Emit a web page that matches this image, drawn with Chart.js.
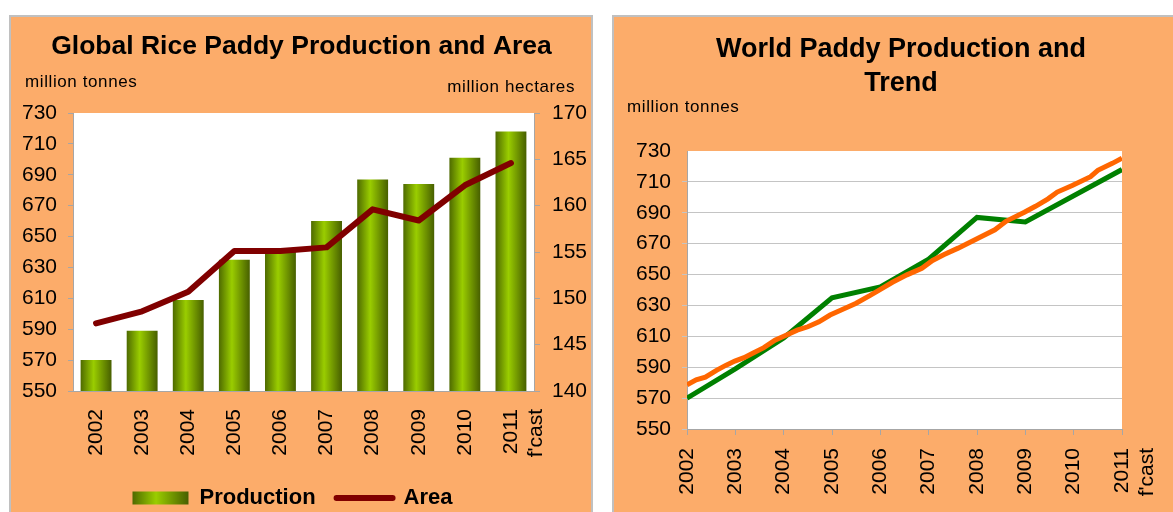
<!DOCTYPE html>
<html>
<head>
<meta charset="utf-8">
<script src="https://cdn.jsdelivr.net/npm/chart.js@4.4.1/dist/chart.umd.min.js"></script>
<style>
  body { margin:0; width:1173px; height:512px; overflow:hidden; background:#fff;
         font-family:"Liberation Sans", Arial, sans-serif; position:relative; }
  .panel { position:absolute; top:15px; height:520px; box-sizing:border-box;
           border:2px solid #c0c0c0; background:#fcac6a; }
  #p1 { left:9px; width:584px; }
  #p2 { left:612px; width:600px; }
  .unit { position:absolute; font-size:17px; letter-spacing:0.6px; line-height:20px;
          color:#000; white-space:nowrap; }
  canvas { position:absolute; }
</style>
</head>
<body>
<div class="panel" id="p1"></div>
<div class="panel" id="p2"></div>
<canvas id="c1" width="581" height="502" style="left:11px;top:17px;width:581px;height:502px"></canvas>
<canvas id="c2" width="574" height="495" style="left:614px;top:17px;width:574px;height:495px"></canvas>
<div class="unit" style="left:25px;top:72px">million tonnes</div>
<div class="unit" style="right:598px;top:77px">million hectares</div>
<div class="unit" style="left:627px;top:97px">million tonnes</div>
<script>
// data
var years = ['2002', '2003', '2004', '2005', '2006', '2007', '2008', '2009', '2010', '2011'];
var yearNums = [2002, 2003, 2004, 2005, 2006, 2007, 2008, 2009, 2010, 2011];
var production = [570, 589, 609, 635, 642, 660, 687, 684, 701, 718];   // million tonnes
var area = [147.3, 148.6, 150.7, 155.1, 155.1, 155.5, 159.6, 158.4, 162.2, 164.6]; // million hectares

var trendYears = [2002.00, 2002.19, 2002.38, 2002.61, 2002.80, 2002.99, 2003.18, 2003.37, 2003.59,
  2003.82, 2004.05, 2004.28, 2004.50, 2004.73, 2004.96, 2005.19, 2005.49, 2005.79, 2006.02,
  2006.25, 2006.55, 2006.86, 2007.08, 2007.31, 2007.61, 2007.99, 2008.37, 2008.60, 2008.98,
  2009.21, 2009.47, 2009.66, 2009.97, 2010.35, 2010.50, 2010.80, 2011.00];
var trendValues = [578.6, 581.9, 583.6, 588.0, 591.2, 594.0, 596.2, 599.2, 602.7,
  607.5, 610.7, 614.0, 616.2, 619.4, 623.8, 627.0, 631.3, 636.5, 640.7,
  645.0, 649.8, 654.1, 659.1, 662.8, 667.1, 673.0, 679.0, 684.5, 690.3,
  694.2, 699.0, 703.4, 707.7, 713.4, 717.5, 722.0, 725.3];

var font = '"Liberation Sans", Arial, sans-serif';
var axisGray = '#a6a6a6';

function barStops(g) {
  g.addColorStop(0, '#4e6a00');
  g.addColorStop(0.42, '#9acd00');
  g.addColorStop(1, '#475f00');
  return g;
}

var whiteArea = {
  id: 'whiteArea',
  beforeDraw: function(chart) {
    var a = chart.chartArea, ctx = chart.ctx;
    ctx.save();
    ctx.fillStyle = '#fff';
    ctx.fillRect(a.left, a.top, a.right - a.left, a.bottom - a.top);
    ctx.restore();
  }
};

// nudge the legend a little to the left, and paint the bar swatch with the bar gradient
var legendTweak = {
  id: 'legendTweak',
  afterLayout: function(chart) {
    chart.legend.left -= 9;
    chart.legend.right -= 9;
  },
  beforeDraw: function(chart) {
    var lg = chart.legend;
    if (!lg || !lg.legendHitBoxes || !lg.legendHitBoxes.length) return;
    var hb = lg.legendHitBoxes[0];
    lg.legendItems[0].fillStyle = barStops(chart.ctx.createLinearGradient(hb.left, 0, hb.left + 56, 0));
  }
};

new Chart(document.getElementById('c1'), {
  type: 'bar',
  data: {
    labels: years.map(function(y) { return y === '2011' ? ['2011', "f'cast"] : y; }),
    datasets: [
      {
        type: 'line',
        label: 'Area',
        data: area,
        yAxisID: 'y1',
        borderColor: '#800000',
        borderWidth: 6,
        borderCapStyle: 'round',
        borderJoinStyle: 'round',
        pointRadius: 0,
        tension: 0,
        order: 0
      },
      {
        label: 'Production',
        data: production,
        yAxisID: 'y',
        order: 1,
        categoryPercentage: 1,
        barPercentage: 0.67,
        backgroundColor: function(c) {
          var chart = c.chart, a = chart.chartArea;
          if (!a || !chart.scales.x) return '#88b800';
          var x = chart.scales.x.getPixelForValue(c.dataIndex);
          var w = (a.right - a.left) / years.length * 0.67;
          return barStops(chart.ctx.createLinearGradient(x - w / 2, 0, x + w / 2, 0));
        }
      }
    ]
  },
  options: {
    responsive: false,
    animation: false,
    layout: { padding: 0 },
    plugins: {
      title: {
        display: true,
        text: 'Global Rice Paddy Production and Area',
        color: '#000',
        font: { family: font, size: 26.5, weight: 'bold', lineHeight: 1.2 },
        padding: { top: 13.4, bottom: 50.8 }
      },
      legend: {
        position: 'bottom',
        labels: {
          usePointStyle: true,
          pointStyleWidth: 56,
          boxHeight: 13,
          padding: 21,
          color: '#000',
          font: { family: font, size: 22, weight: 'bold' },
          generateLabels: function() {
            return [
              { text: 'Production', fillStyle: '#88b800', strokeStyle: 'rgba(0,0,0,0)', lineWidth: 0,
                pointStyle: 'rect', datasetIndex: 1, hidden: false, fontColor: '#000' },
              { text: 'Area', fillStyle: '#800000', strokeStyle: '#800000', lineWidth: 6, lineCap: 'round',
                pointStyle: 'line', datasetIndex: 0, hidden: false, fontColor: '#000' }
            ];
          }
        }
      },
      tooltip: { enabled: false }
    },
    scales: {
      x: {
        grid: { display: false },
        border: { color: axisGray },
        ticks: { color: '#000', font: { family: font, size: 21 }, minRotation: 90, maxRotation: 90,
                 autoSkip: false, padding: 10 },
        afterFit: function(s) { s.height = 75; }
      },
      y: {
        position: 'left',
        min: 550, max: 730,
        grid: { drawOnChartArea: false, tickLength: 5, color: axisGray },
        border: { color: axisGray },
        ticks: { stepSize: 20, color: '#000', font: { family: font, size: 21 }, padding: 11 },
        afterFit: function(s) { s.width = 62; }
      },
      y1: {
        position: 'right',
        min: 140, max: 170,
        grid: { drawOnChartArea: false, tickLength: 6, color: axisGray },
        border: { color: axisGray },
        ticks: { stepSize: 5, color: '#000', font: { family: font, size: 21 }, padding: 12 },
        afterFit: function(s) { s.width = 58; }
      }
    }
  },
  plugins: [whiteArea, legendTweak]
});

new Chart(document.getElementById('c2'), {
  type: 'line',
  data: {
    datasets: [
      {
        label: 'Trend',
        data: trendYears.map(function(x, i) { return { x: x, y: trendValues[i] }; }),
        borderColor: '#ff6600',
        borderWidth: 5,
        pointRadius: 0,
        tension: 0,
        order: 0
      },
      {
        label: 'Production',
        data: yearNums.map(function(x, i) { return { x: x, y: production[i] }; }),
        borderColor: '#008000',
        borderWidth: 5,
        pointRadius: 0,
        tension: 0,
        order: 1
      }
    ]
  },
  options: {
    responsive: false,
    animation: false,
    layout: { padding: 0 },
    plugins: {
      title: {
        display: true,
        text: ['World Paddy Production and', 'Trend'],
        color: '#000',
        font: { family: font, size: 27, weight: 'bold', lineHeight: 34 / 27 },
        padding: { top: 16, bottom: 50 }
      },
      legend: { display: false },
      tooltip: { enabled: false }
    },
    scales: {
      x: {
        type: 'linear',
        min: 2002, max: 2011,
        grid: { drawOnChartArea: false, tickLength: 6, color: axisGray },
        border: { color: axisGray },
        ticks: {
          stepSize: 1, autoSkip: false, minRotation: 90, maxRotation: 90, padding: 13,
          color: '#000', font: { family: font, size: 21 },
          callback: function(v) { return v === 2011 ? ['2011', "f'cast"] : String(v); }
        },
        afterFit: function(s) { s.height = 83; s.paddingLeft = 0; s.paddingRight = 66; }
      },
      y: {
        min: 550, max: 730,
        grid: {
          tickLength: 5,
          color: function(c) { return c.tick && c.tick.value === 730 ? 'rgba(0,0,0,0)' : '#c4c4c4'; }
        },
        border: { color: axisGray },
        ticks: { stepSize: 20, color: '#000', font: { family: font, size: 21 }, padding: 11 },
        afterFit: function(s) { s.width = 73; }
      }
    }
  },
  plugins: [whiteArea]
});
</script>
</body>
</html>
